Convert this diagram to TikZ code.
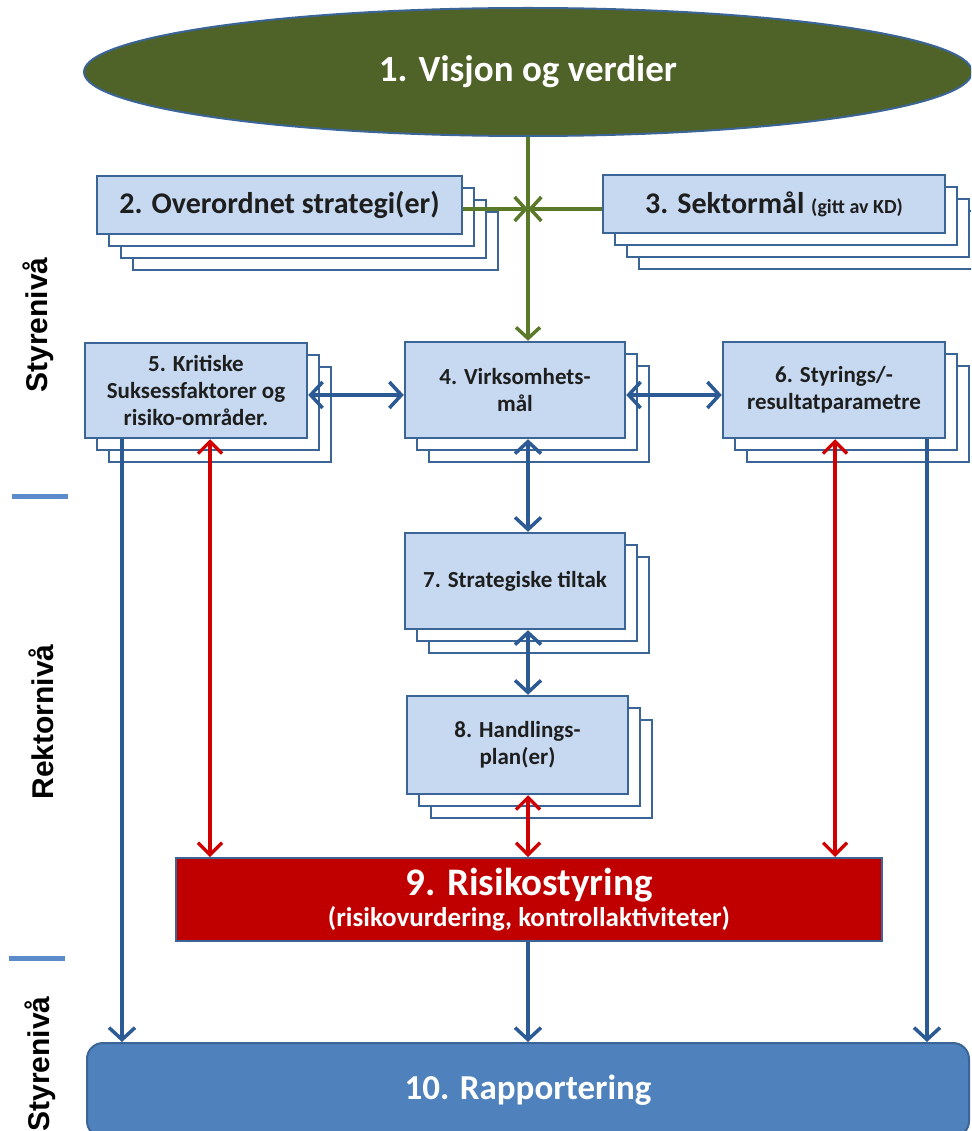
\documentclass[tikz,border=0pt]{standalone}
\usepackage{fontspec}
\setmainfont{Carlito}
\newfontfamily\labfont{Liberation Sans}
\usetikzlibrary{arrows.meta,shapes.geometric,calc}
\definecolor{boxfill}{HTML}{C6D9F1}
\definecolor{boxline}{HTML}{3A6596}
\definecolor{conblue}{HTML}{2C5A94}
\definecolor{conred}{HTML}{D00000}
\definecolor{congreen}{HTML}{5A7A2A}
\definecolor{ellfill}{HTML}{4F6228}
\definecolor{riskred}{HTML}{C00000}
\definecolor{repblue}{HTML}{4F81BD}
\definecolor{tickblue}{HTML}{5B8BCB}
\definecolor{txt}{HTML}{1E1E1E}
\tikzset{
  copybox/.style={draw=boxline, fill=white, line width=2pt},
  mainbox/.style={draw=boxline, fill=boxfill, line width=2.5pt, inner sep=2pt,
     align=center, text=txt, font=\bfseries\fontsize{23}{27}\selectfont},
  bluearr/.style={draw=conblue, line width=3.5pt, >={Straight Barb[length=12pt,width=26pt]}},
  redarr/.style={draw=conred, line width=3.2pt, >={Straight Barb[length=12pt,width=24pt]}},
  greenarr/.style={draw=congreen, line width=3.5pt, >={Straight Barb[length=11pt,width=24pt]}},
  sidelabel/.style={rotate=90, font=\labfont\bfseries\fontsize{30}{36}\selectfont, text=black},
  levtick/.style={draw=tickblue, line width=5pt},
}
% #1 name, #2 x1, #3 y1, #4 x2, #5 y2, #6 text, #7 extra style, #8 list of copies
\newcommand{\stackbox}[8]{%
  \foreach \k in {#8}{\draw[copybox] ({#2+12*\k},{#3+12*\k}) rectangle ({#4+12*\k},{#5+12*\k});}
  \node[mainbox, minimum width={#4-#2}, minimum height={#5-#3}, #7] (#1) at ({(#2+#4)/2},{(#3+#5)/2}) {#6};
}
\begin{document}
\begin{tikzpicture}[x=1pt,y=-1pt]
\useasboundingbox (0,0) rectangle (971,1131);
\clip (0,0) rectangle (971,1131);

% side labels
\node[sidelabel] (l1) at (38,325) {Styrenivå};
\node[sidelabel] (l2) at (41,722) {Rektornivå};
\node[sidelabel] (l3) at (40,1064) {Styrenivå};
\draw[levtick] (12,496) -- (68,496);
\draw[levtick] (9,958) -- (65,958);

% 1 ellipse
\node[ellipse, minimum width=888pt, minimum height=128pt, fill=ellfill, draw=boxline, line width=2pt,
      text=white, font=\bfseries\fontsize{37}{42}\selectfont] (n1) at (528,72) {1. Visjon og verdier};

% boxes
\stackbox{b2}{97}{176}{462}{234}{2. Overordnet strategi(er)}{font=\bfseries\fontsize{30}{34}\selectfont}{3,2,1}
\stackbox{b3}{603}{175}{945}{233}{3. Sektormål {\fontsize{20}{24}\selectfont(gitt av KD)}}{font=\bfseries\fontsize{30}{34}\selectfont}{3,2,1}
\stackbox{b5}{85}{343}{307}{438}{5. Kritiske\\Suksessfaktorer og\\risiko-områder.}{}{2,1}
\stackbox{b4}{405}{342}{625}{438}{4. Virksomhets-\\mål}{}{2,1}
\stackbox{b6}{723}{342}{945}{438}{6. Styrings/-\\resultatparametre}{}{2,1}
\stackbox{b7}{405}{533}{625}{629}{7. Strategiske tiltak}{}{2,1}
\stackbox{b8}{407}{696}{628}{794}{8. Handlings-\\plan(er)}{}{2,1}

% 9 risk
\node[draw=boxline, fill=riskred, line width=2pt, minimum width=706pt, minimum height=83pt, inner sep=1pt,
      align=center, text=white, font=\bfseries] (b9) at (529,899.5)
      {\fontsize{39}{42}\selectfont 9. Risikostyring\\[4pt]\fontsize{27}{32}\selectfont (risikovurdering, kontrollaktiviteter)};

% 10 reporting
\node[draw=boxline, fill=repblue, line width=2pt, rounded corners=16pt, minimum width=882pt, minimum height=94pt,
      text=white, font=\bfseries\fontsize{35}{40}\selectfont] (b10) at (528,1090) {10. Rapportering};

% helper coordinates
\coordinate (hub) at (528,209);
\coordinate (row) at (0,395);
\coordinate (cx5) at (210,0);
\coordinate (bx5) at (122,0);
\coordinate (cx6) at (835,0);
\coordinate (bx6) at (927,0);

% green
\draw[greenarr,->] (n1.south) -- (n1.south |- b4.north);
\draw[greenarr,->] (b2.east |- hub) -- (hub);
\draw[greenarr,->] (b3.west |- hub) -- (hub);

% blue double arrows
\draw[bluearr,<->] (b5.east |- row) -- (b4.west |- row);
\draw[bluearr,<->] (b4.east |- row) -- (b6.west |- row);
\draw[bluearr,<->] (b4.south -| hub) -- (b7.north -| hub);
\draw[bluearr,<->] (b7.south -| hub) -- (b8.north -| hub);

% red
\draw[redarr,<->] (b5.south -| cx5) -- (b9.north -| cx5);
\draw[redarr,<->] (b8.south -| hub) -- (b9.north -| hub);
\draw[redarr,<->] (b6.south -| cx6) -- (b9.north -| cx6);

% to reporting
\draw[bluearr,->] (b5.south -| bx5) -- (b10.north -| bx5);
\draw[bluearr,->] (b9.south -| hub) -- (b10.north -| hub);
\draw[bluearr,->] (b6.south -| bx6) -- (b10.north -| bx6);
\end{tikzpicture}
\end{document}
